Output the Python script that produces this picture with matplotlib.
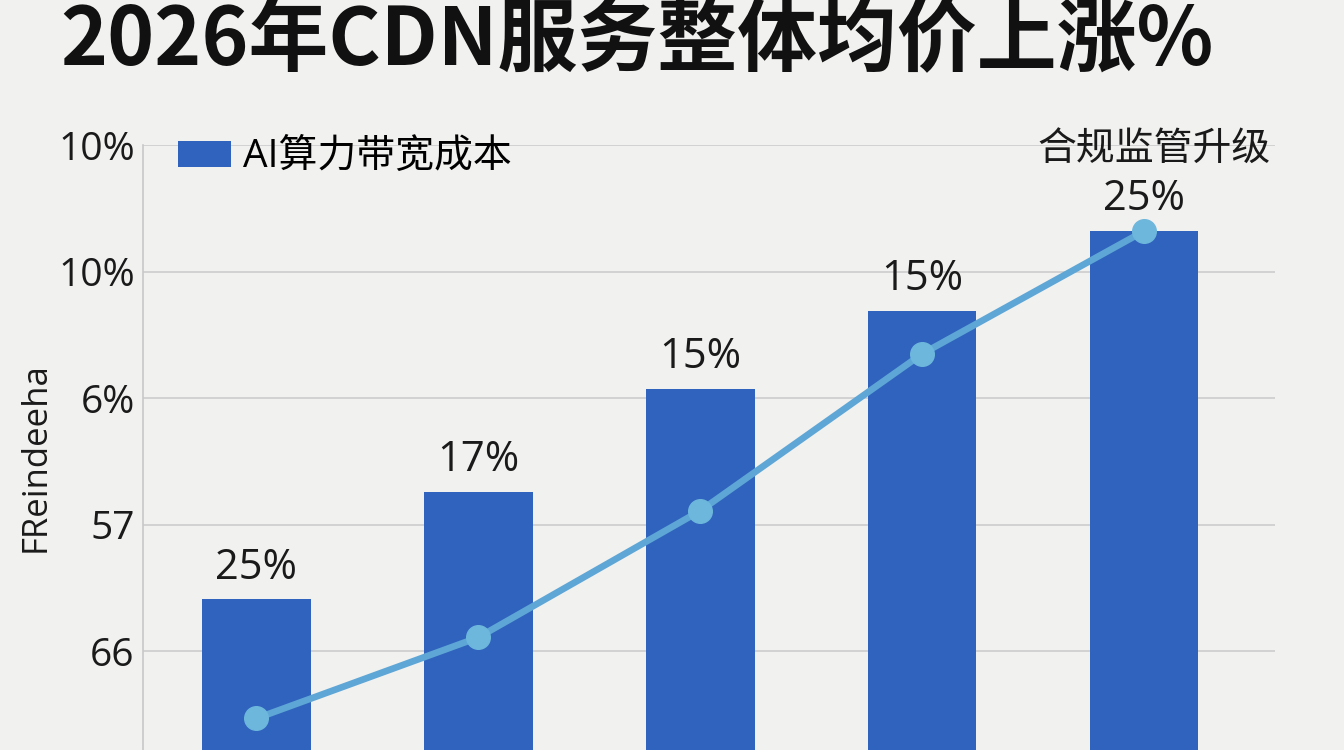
import matplotlib
matplotlib.use("Agg")
import matplotlib.pyplot as plt
import numpy as np

plt.rcParams['font.family'] = ['Open Sans', 'Noto Sans CJK SC', 'DejaVu Sans']

# ---- data (in grid units) ----
title = "2026年CDN服务整体均价上涨%"
legend_label = "AI算力带宽成本"
ylabel = "FReindeeha"
tick_values = [1, 2, 3, 4, 5]
tick_labels = ["66", "57", "6%", "10%", "10%"]
bar_values = [1.41, 2.26, 3.07, 3.69, 4.32]
bar_labels = ["25%", "17%", "15%", "15%", "25%"]
line_values = [0.47, 1.11, 2.11, 3.35, 4.32]
top_note = "合规监管升级"

BG = "#f1f1ef"
BAR = "#2f63bd"
LINE = "#5ea6d6"
MARK = "#6db7dd"

fig = plt.figure(figsize=(13.44, 7.5), dpi=100, facecolor=BG)
# axes: left 143px, right 1275px, top 145px, bottom 778px (below figure edge)
ax = fig.add_axes([143/1344, (750-778)/750, (1275-143)/1344, (778-145)/750])
ax.set_facecolor(BG)

x = np.arange(len(bar_values))
bars = ax.bar(x, bar_values, width=0.49, color=BAR, zorder=2, label=legend_label)
ax.plot(x, line_values, color=LINE, lw=4.8, marker='o', markersize=17,
        markerfacecolor=MARK, markeredgecolor=MARK, zorder=3)

for xi, v, lab in zip(x, bar_values, bar_labels):
    ax.annotate(lab, (xi, v), xytext=(0, 23), textcoords='offset points',
                ha='center', va='center', fontsize=30, color='#1a1a1a')
ax.annotate(top_note, (x[-1], bar_values[-1]), xytext=(7, 59), textcoords='offset points',
            ha='center', va='center', fontsize=28, color='#1a1a1a',
            family=['Noto Sans CJK SC', 'DejaVu Sans'])

ax.set_xlim(-0.51, 4.59)
ax.set_ylim(0, 5)
ax.set_yticks(tick_values)
ax.set_yticklabels(tick_labels, fontsize=28, color='#1a1a1a')
ax.set_xticks([])
ax.tick_params(axis='y', length=0, pad=6)
ax.grid(axis='y', color='#cfcfcf', lw=1.3, zorder=0)
for s in ['top', 'right', 'bottom']:
    ax.spines[s].set_visible(False)
ax.spines['left'].set_color('#c8c8c8')
ax.spines['left'].set_linewidth(1.2)

ax.set_ylabel(ylabel, fontsize=25, color='#1a1a1a')
ax.yaxis.set_label_coords(-0.08, 0.507)

leg = ax.legend(handles=[bars], labels=[legend_label], loc='upper left',
                bbox_to_anchor=(0.0175, 1.035), frameon=False, fontsize=28,
                handlelength=1.35, handleheight=0.65, handletextpad=0.3,
                borderaxespad=0)

fig.text(60/1344, 0.999, title, fontsize=57.5, fontweight='heavy',
         family=['Noto Sans CJK SC', 'DejaVu Sans'], color='#111111',
         ha='left', va='top')

fig.savefig("out.png", dpi=100, facecolor=BG)
